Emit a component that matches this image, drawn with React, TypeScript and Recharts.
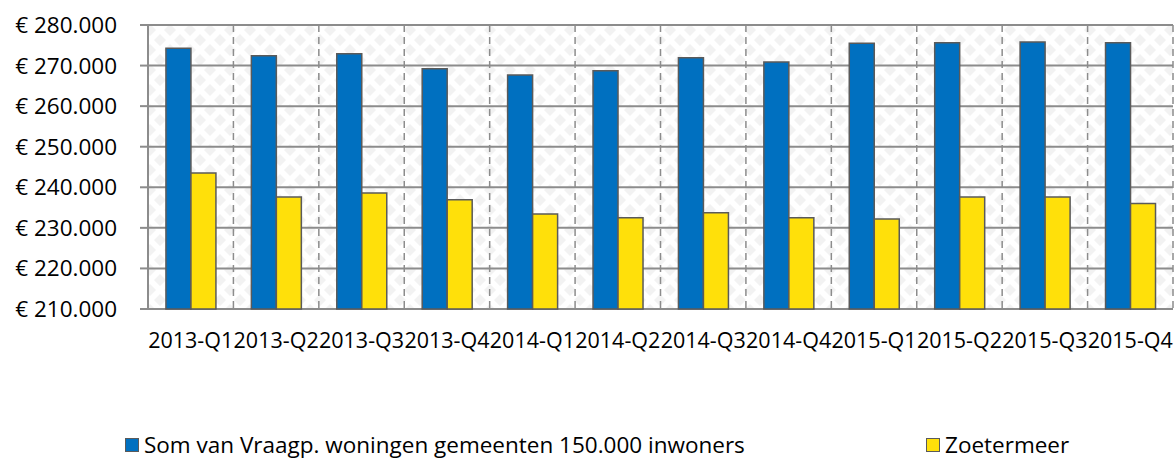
import React from 'react';
import { BarChart, Bar, XAxis, YAxis, CartesianGrid, Legend } from 'recharts';

const quarters = [
  '2013-Q1', '2013-Q2', '2013-Q3', '2013-Q4',
  '2014-Q1', '2014-Q2', '2014-Q3', '2014-Q4',
  '2015-Q1', '2015-Q2', '2015-Q3', '2015-Q4',
];
const somValues = [274300, 272400, 272900, 269200, 267700, 268700, 271900, 270900, 275500, 275600, 275800, 275600];
const zoetermeerValues = [243500, 237600, 238600, 236900, 233400, 232500, 233700, 232500, 232200, 237600, 237600, 236000];
const yTicks = [210000, 220000, 230000, 240000, 250000, 260000, 270000, 280000];
const boundaryTicks = [0, 1, 2, 3, 4, 5, 6, 7, 8, 9, 10, 11, 12];

const SOM_NAME = 'Som van Vraagp. woningen gemeenten 150.000 inwoners';
const ZOET_NAME = 'Zoetermeer';

const data = quarters.map((q, i) => ({
  quarter: q,
  pos: i + 0.5,
  som: somValues[i],
  zoetermeer: zoetermeerValues[i],
}));

const FONT = "'Open Sans', sans-serif";
const BLUE = '#0070C0';
const YELLOW = '#FFE00A';
const BORDER = '#5a5a5a';
const GRID = '#8c8c8c';

const euro = (v: number) => '€ ' + String(v).replace(/\B(?=(\d{3})+(?!\d))/g, '.');

const itemStyle: React.CSSProperties = {
  position: 'absolute',
  top: 0,
  height: 30,
  display: 'flex',
  alignItems: 'center',
  lineHeight: 1,
  whiteSpace: 'nowrap',
};

const LegendBox = () => (
  <div style={{ position: 'relative', height: 30, fontFamily: FONT, fontSize: 22.5, color: '#000' }}>
    <div style={{ ...itemStyle, left: 125 }}>
      <span style={{ width: 12, height: 12, background: BLUE, border: `1px solid ${BORDER}`, marginRight: 5 }} />
      <span>{SOM_NAME}</span>
    </div>
    <div style={{ ...itemStyle, left: 926 }}>
      <span style={{ width: 12, height: 12, background: YELLOW, border: `1px solid ${BORDER}`, marginRight: 5 }} />
      <span>{ZOET_NAME}</span>
    </div>
  </div>
);

export default function App() {
  return (
    <div style={{ position: 'absolute', left: 0, top: 0, width: 1174, height: 460, background: '#fff' }}>
      <BarChart
        width={1174}
        height={460}
        data={data}
        margin={{ top: 25, right: 1, bottom: 0, left: 0 }}
        barCategoryGap="21%"
        barGap={0}
        style={{ fontFamily: FONT }}
      >
        <defs>
          <pattern id="diamonds" width="20" height="20" patternUnits="userSpaceOnUse">
            <rect width="20" height="20" fill="#ffffff" />
            <path d="M10 4 L16 10 L10 16 L4 10 Z" fill="#f2f2f2" />
            <path d="M0 -6 L6 0 L0 6 L-6 0 Z M20 -6 L26 0 L20 6 L14 0 Z M0 14 L6 20 L0 26 L-6 20 Z M20 14 L26 20 L20 26 L14 20 Z" fill="#f2f2f2" />
          </pattern>
        </defs>
        <XAxis
          xAxisId="bounds"
          dataKey="pos"
          type="number"
          domain={[0, 12]}
          ticks={boundaryTicks}
          interval={0}
          height={0}
          axisLine={false}
          tickLine={{ stroke: GRID, strokeWidth: 2 }}
          tickSize={7}
          tickFormatter={() => ''}
          tick={{ fontSize: 1 }}
        />
        <XAxis
          xAxisId="cat"
          dataKey="quarter"
          height={121}
          interval={0}
          axisLine={false}
          tickLine={false}
          tickSize={0}
          tickMargin={24}
          tick={{ fill: '#000', fontSize: 21.5, fontFamily: FONT }}
        />
        <YAxis
          domain={[210000, 280000]}
          ticks={yTicks}
          width={148}
          axisLine={{ stroke: GRID, strokeWidth: 2 }}
          tickLine={{ stroke: GRID, strokeWidth: 2 }}
          tickSize={8}
          tickMargin={23}
          tickFormatter={euro}
          tick={{ fill: '#000', fontSize: 22.5, fontFamily: FONT }}
        />
        <CartesianGrid
          xAxisId="cat"
          vertical={false}
          stroke={GRID}
          strokeWidth={2}
          fill="url(#diamonds)"
          fillOpacity={1}
        />
        <CartesianGrid
          xAxisId="bounds"
          horizontal={false}
          stroke={GRID}
          strokeWidth={1.5}
          strokeDasharray="7 5"
        />
        <Legend verticalAlign="bottom" content={<LegendBox />} />
        <Bar xAxisId="cat" dataKey="som" name={SOM_NAME} fill={BLUE} stroke={BORDER} strokeWidth={1.5} isAnimationActive={false} />
        <Bar xAxisId="cat" dataKey="zoetermeer" name={ZOET_NAME} fill={YELLOW} stroke={BORDER} strokeWidth={1.5} isAnimationActive={false} />
      </BarChart>
    </div>
  );
}
